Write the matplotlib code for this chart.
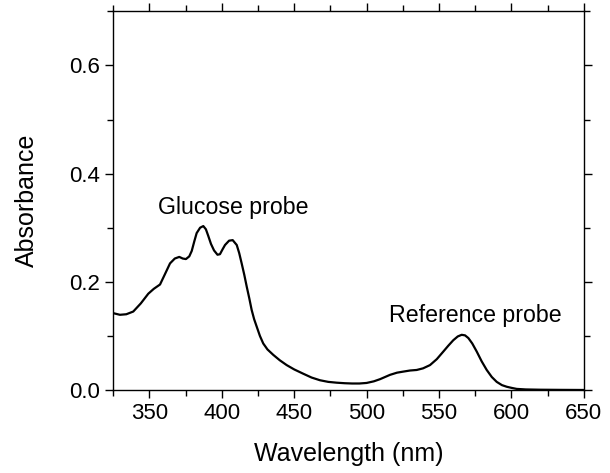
import numpy as np
import matplotlib
matplotlib.use("Agg")
import matplotlib.pyplot as plt
from matplotlib.ticker import MultipleLocator

plt.rcParams['font.family'] = ['Liberation Sans', 'DejaVu Sans']

# espectro
wavelength = [325, 329.6, 334, 338.8, 344, 349.2, 353, 357.3, 360.5, 364.2, 367.5, 370.6,
              373, 375.2, 377.5, 379.2, 381, 382.6, 385, 387.2, 389, 390.6, 392.5, 394.6,
              397, 398.7, 400.5, 402.2, 405, 407.5, 410.3, 412, 413.7, 415.5, 417.2, 419,
              420.6, 422.3, 424.1, 426.3, 428.6, 431.5, 435.5, 440, 444.8, 450, 456.3, 462,
              467.8, 473.5, 479.3, 485, 490, 495, 500, 505, 509.3, 516.2, 521, 525.4,
              530, 534.6, 539, 543.8, 548.5, 553.0, 556.5, 559.9, 563, 565.7, 568, 570.3,
              573, 576.1, 579.5, 583.0, 586.5, 589.9, 593.5, 596.8, 600, 603.7, 610, 620,
              635, 650]
absorbance = [0.142, 0.139, 0.140, 0.145, 0.160, 0.178, 0.187, 0.195, 0.213, 0.234, 0.243, 0.246,
              0.243, 0.242, 0.247, 0.257, 0.275, 0.290, 0.300, 0.303, 0.297, 0.285, 0.270, 0.258,
              0.250, 0.251, 0.260, 0.268, 0.276, 0.277, 0.268, 0.253, 0.234, 0.213, 0.191, 0.169,
              0.148, 0.131, 0.117, 0.100, 0.086, 0.075, 0.065, 0.055, 0.046, 0.038, 0.030, 0.023,
              0.018, 0.015, 0.0135, 0.0125, 0.012, 0.012, 0.013, 0.016, 0.020, 0.028, 0.032, 0.034,
              0.036, 0.037, 0.040, 0.046, 0.057, 0.071, 0.082, 0.092, 0.099, 0.102, 0.101, 0.096,
              0.086, 0.071, 0.053, 0.037, 0.024, 0.015, 0.009, 0.006, 0.004, 0.002, 0.001, 0.0005,
              0.0002, 0.0]

fig = plt.figure(figsize=(6.1, 4.73), dpi=100)
ax = fig.add_axes([0.1857, 0.1755, 0.7712, 0.8006])

ax.plot(wavelength, absorbance, color='black', lw=1.6)

ax.set_xlim(325, 650)
ax.set_ylim(0, 0.7)
ax.xaxis.set_major_locator(MultipleLocator(50))
ax.xaxis.set_minor_locator(MultipleLocator(25))
ax.yaxis.set_major_locator(MultipleLocator(0.2))
ax.yaxis.set_minor_locator(MultipleLocator(0.1))
ax.yaxis.set_major_formatter(matplotlib.ticker.FormatStrFormatter('%.1f'))

ax.tick_params(which='both', direction='out', top=True, right=True, width=1, labelsize=16)
ax.tick_params(which='major', length=6)
ax.tick_params(which='minor', length=4)
for s in ax.spines.values():
    s.set_linewidth(1)

ax.set_xlabel("Wavelength (nm)", fontsize=18, labelpad=13)
ax.set_ylabel("Absorbance", fontsize=18, labelpad=22)

ax.text(356, 0.338, "Glucose probe", fontsize=16.7, va='center', ha='left')
ax.text(515.5, 0.137, "Reference probe", fontsize=16.7, va='center', ha='left')

plt.savefig("out.png", dpi=100)
